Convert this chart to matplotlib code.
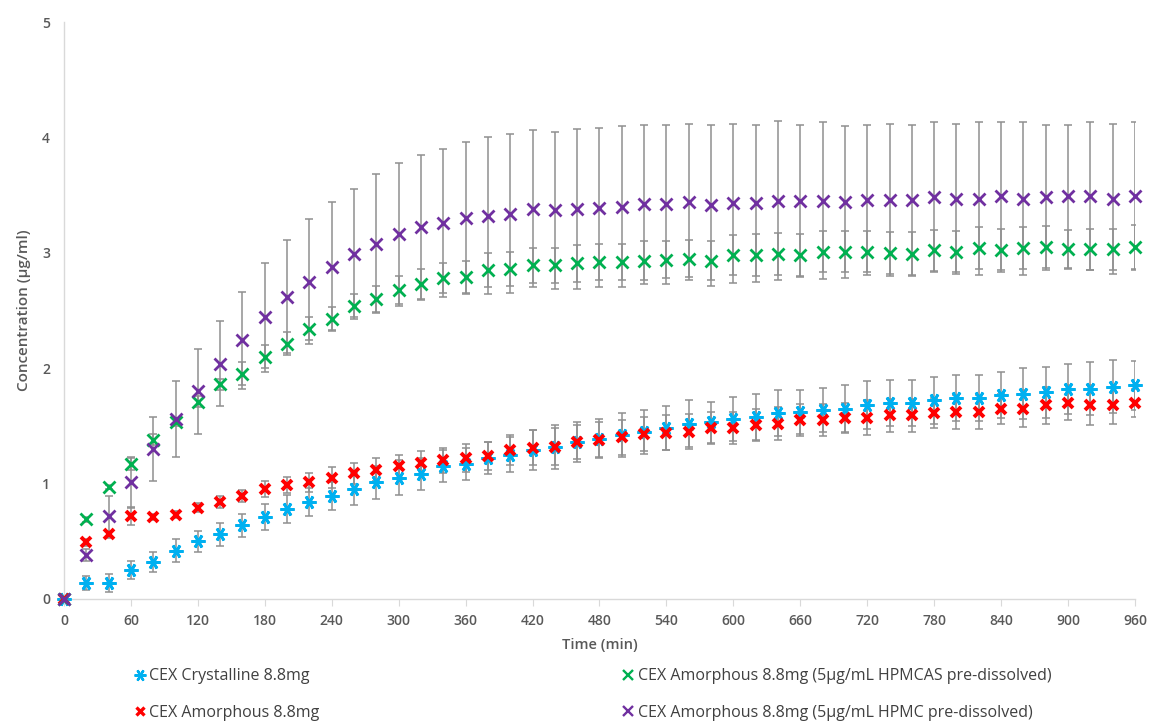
import matplotlib
matplotlib.use("Agg")
import matplotlib.pyplot as plt
from matplotlib.lines import Line2D

plt.rcParams['font.family'] = ['Open Sans', 'DejaVu Sans']

# Sampling times (min)
time_min = list(range(0, 961, 20))

# Mean concentrations (µg/ml) and standard deviations
crystalline = [0, 0.14, 0.14, 0.25, 0.32, 0.42, 0.50, 0.56, 0.64, 0.71, 0.78, 0.84, 0.89, 0.95, 1.01,
               1.05, 1.08, 1.15, 1.17, 1.22, 1.25, 1.29, 1.32, 1.36, 1.39, 1.42, 1.45, 1.48, 1.52, 1.53,
               1.56, 1.58, 1.61, 1.62, 1.64, 1.65, 1.68, 1.70, 1.70, 1.72, 1.74, 1.74, 1.77, 1.78, 1.79,
               1.82, 1.82, 1.84, 1.85]
crystalline_sd = [0, 0.06, 0.08, 0.08, 0.09, 0.10, 0.09, 0.10, 0.10, 0.11, 0.12, 0.12, 0.12, 0.14, 0.14,
                  0.15, 0.14, 0.14, 0.14, 0.14, 0.15, 0.17, 0.19, 0.17, 0.17, 0.19, 0.19, 0.19, 0.20, 0.18,
                  0.19, 0.20, 0.20, 0.19, 0.19, 0.20, 0.21, 0.20, 0.20, 0.20, 0.20, 0.20, 0.20, 0.22, 0.22,
                  0.22, 0.23, 0.23, 0.21]

amorphous = [0, 0.49, 0.56, 0.72, 0.71, 0.73, 0.79, 0.84, 0.89, 0.95, 0.99, 1.01, 1.05, 1.09, 1.12,
             1.15, 1.18, 1.20, 1.22, 1.24, 1.29, 1.31, 1.32, 1.36, 1.38, 1.40, 1.43, 1.44, 1.45, 1.48,
             1.48, 1.51, 1.52, 1.55, 1.55, 1.57, 1.57, 1.59, 1.59, 1.61, 1.62, 1.62, 1.65, 1.65, 1.68,
             1.70, 1.68, 1.68, 1.70]
amorphous_sd = [0, 0.03, 0.03, 0.08, 0.03, 0.03, 0.04, 0.05, 0.05, 0.07, 0.07, 0.08, 0.09, 0.09, 0.10,
                0.10, 0.10, 0.11, 0.12, 0.12, 0.13, 0.15, 0.16, 0.15, 0.15, 0.15, 0.15, 0.15, 0.15, 0.14,
                0.14, 0.14, 0.14, 0.14, 0.14, 0.13, 0.15, 0.14, 0.14, 0.13, 0.15, 0.15, 0.13, 0.16, 0.16,
                0.15, 0.17, 0.16, 0.12]

hpmcas = [0, 0.69, 0.97, 1.17, 1.38, 1.53, 1.71, 1.86, 1.95, 2.10, 2.21, 2.34, 2.43, 2.54, 2.60,
          2.68, 2.73, 2.78, 2.79, 2.85, 2.86, 2.89, 2.89, 2.91, 2.92, 2.92, 2.93, 2.94, 2.95, 2.93,
          2.98, 2.98, 2.99, 2.98, 3.01, 3.01, 3.01, 3.00, 2.99, 3.02, 3.01, 3.04, 3.02, 3.04, 3.05,
          3.03, 3.03, 3.03, 3.05]
hpmcas_sd = [0, 0.02, 0.02, 0.05, 0.05, 0.03, 0.05, 0.05, 0.10, 0.10, 0.10, 0.10, 0.10, 0.10, 0.11,
             0.12, 0.13, 0.13, 0.14, 0.15, 0.15, 0.15, 0.15, 0.16, 0.16, 0.16, 0.17, 0.16, 0.16, 0.17,
             0.17, 0.18, 0.18, 0.18, 0.18, 0.18, 0.18, 0.18, 0.19, 0.18, 0.18, 0.18, 0.19, 0.18, 0.18,
             0.17, 0.18, 0.18, 0.19]

hpmc = [0, 0.38, 0.72, 1.01, 1.30, 1.56, 1.80, 2.04, 2.24, 2.44, 2.62, 2.75, 2.88, 2.99, 3.08,
        3.16, 3.22, 3.26, 3.30, 3.32, 3.34, 3.38, 3.37, 3.38, 3.39, 3.40, 3.42, 3.42, 3.44, 3.41,
        3.43, 3.43, 3.45, 3.45, 3.45, 3.44, 3.46, 3.46, 3.46, 3.48, 3.47, 3.47, 3.49, 3.47, 3.48,
        3.49, 3.49, 3.47, 3.49]
hpmc_sd = [0, 0.05, 0.17, 0.22, 0.28, 0.33, 0.37, 0.37, 0.42, 0.47, 0.49, 0.54, 0.56, 0.56, 0.60,
           0.62, 0.63, 0.64, 0.66, 0.68, 0.69, 0.68, 0.68, 0.69, 0.69, 0.70, 0.69, 0.69, 0.68, 0.70,
           0.69, 0.68, 0.69, 0.66, 0.68, 0.66, 0.65, 0.66, 0.65, 0.65, 0.65, 0.66, 0.64, 0.66, 0.63,
           0.62, 0.64, 0.65, 0.64]

labels = ["CEX Crystalline 8.8mg",
          "CEX Amorphous 8.8mg",
          "CEX Amorphous 8.8mg (5µg/mL HPMCAS pre-dissolved)",
          "CEX Amorphous 8.8mg (5µg/mL HPMC pre-dissolved)"]

x_ticks = list(range(0, 961, 60))
y_ticks = [0, 1, 2, 3, 4, 5]

# (values, sd, colour, marker, size, edge width)
series = [
    (crystalline, crystalline_sd, "#00b0f0", (6, 2, 30), 10, 2.0),
    (amorphous, amorphous_sd, "#ff0000", "x", 7, 2.8),
    (hpmcas, hpmcas_sd, "#00b050", "x", 8, 2.0),
    (hpmc, hpmc_sd, "#7030a0", "x", 9, 2.0),
]

fig = plt.figure(figsize=(11.49, 7.24), dpi=100)
ax = fig.add_axes([0.0557, 0.1727, 0.9321, 0.7969])

err_color = "#8f8f8f"
for vals, sd, col, mk, ms, mew in series:
    ax.errorbar(time_min, vals, yerr=sd, fmt="none", ecolor=err_color,
                elinewidth=1.1, capsize=2.7, capthick=1.1, zorder=2)
for (vals, sd, col, mk, ms, mew), lab in zip(series, labels):
    ax.plot(time_min, vals, linestyle="none", marker=mk, markersize=ms,
            markeredgewidth=mew, color=col, markeredgecolor=col, zorder=3,
            label=lab, clip_on=False)

ax.set_xlim(0, 960)
ax.set_ylim(0, 5)
ax.set_xticks(x_ticks)
ax.set_yticks(y_ticks)

for s in ["top", "right"]:
    ax.spines[s].set_visible(False)
ax.spines["left"].set_color("#d9d9d9")
ax.spines["bottom"].set_color("#d9d9d9")
ax.spines["left"].set_linewidth(1.0)
ax.spines["bottom"].set_linewidth(1.0)

ax.tick_params(axis="x", length=5, color="#d9d9d9", labelsize=10, labelcolor="#595959", pad=6)
ax.tick_params(axis="y", length=0, labelsize=10, labelcolor="#595959", pad=10)
for t in ax.get_xticklabels() + ax.get_yticklabels():
    t.set_fontweight("semibold")

ax.set_xlabel("Time (min)", fontsize=10.5, color="#595959", fontweight="semibold", labelpad=7)
ax.set_ylabel("Concentration (µg/ml)", fontsize=11, color="#595959", fontweight="semibold", labelpad=8)

handles = [Line2D([], [], linestyle="none", marker=mk, markersize=ms * 0.85,
                  markeredgewidth=mew * 0.85, color=col)
           for vals, sd, col, mk, ms, mew in series]
fig.legend(handles, labels, ncol=2, loc="upper left", bbox_to_anchor=(0.112, 0.086),
           frameon=False, fontsize=11.5, labelcolor="#404040", handlelength=0.6,
           handletextpad=0.3, columnspacing=19.0, labelspacing=1.3, borderaxespad=0)

fig.savefig("out.png", dpi=100)
